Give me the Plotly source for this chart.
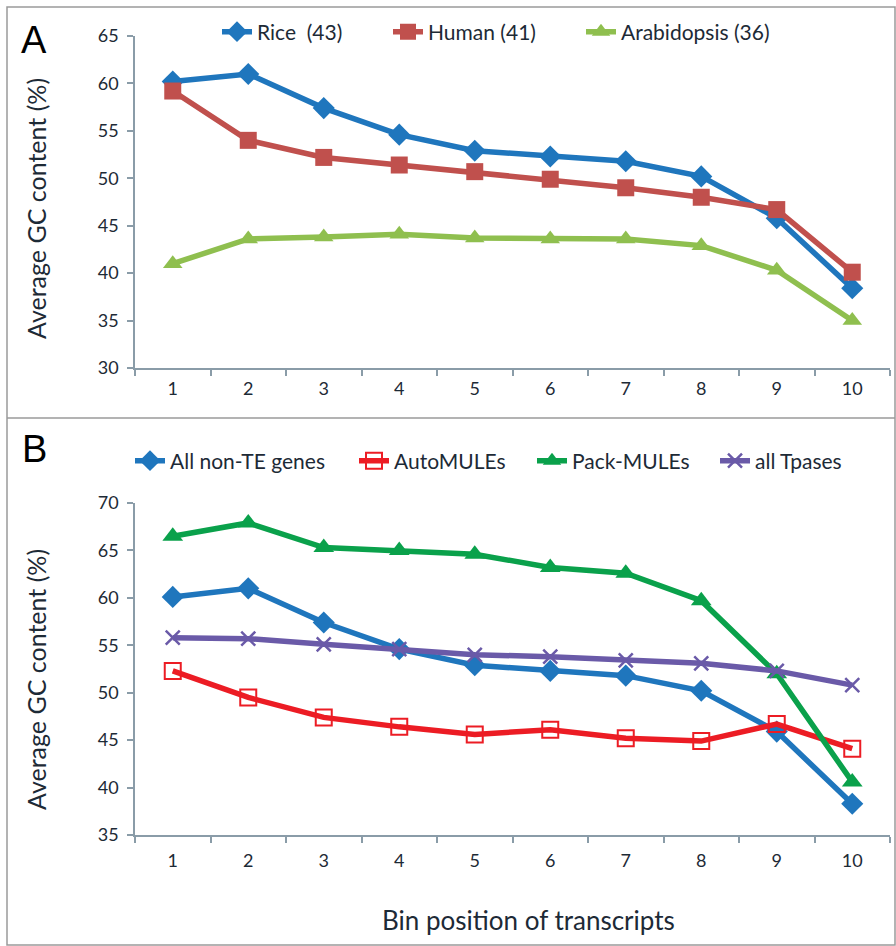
import plotly.graph_objects as go

bins = [1, 2, 3, 4, 5, 6, 7, 8, 9, 10]
bin_labels = ["1", "2", "3", "4", "5", "6", "7", "8", "9", "10"]

# Panel A
rice = [60.2, 61.0, 57.4, 54.6, 52.9, 52.3, 51.8, 50.2, 45.8, 38.4]
human = [59.2, 54.0, 52.2, 51.4, 50.7, 49.9, 49.0, 48.0, 46.7, 40.1]
arabidopsis = [41.0, 43.6, 43.8, 44.1, 43.7, 43.6, 43.6, 42.9, 40.3, 35.0]

# Panel B
non_te = [60.1, 61.0, 57.4, 54.6, 52.9, 52.3, 51.8, 50.2, 45.9, 38.3]
auto_mules = [52.3, 49.5, 47.4, 46.4, 45.6, 46.1, 45.2, 44.9, 46.7, 44.1]
pack_mules = [66.5, 67.9, 65.3, 65.0, 64.6, 63.2, 62.6, 59.7, 52.0, 40.6]
tpases = [55.8, 55.7, 55.1, 54.6, 54.0, 53.8, 53.4, 53.1, 52.3, 50.8]

yticks_a = [30, 35, 40, 45, 50, 55, 60, 65]
yticks_b = [35, 40, 45, 50, 55, 60, 65, 70]

W, H = 896, 946
FONT = "Lato"
TXT = "#1d2a36"
AX = "#8a9ca8"

BLUE = "#1f76bd"
RED_A = "#c0504d"
GREEN_A = "#8fbf4f"
RED_B = "#ec1c24"
GREEN_B = "#0aa14b"
PURPLE = "#6a5aa8"

def px_x(p):
    return p / W

def px_y(p):
    return 1 - p / H

fig = go.Figure()
legends = {}

def add(x, y, name, color, symbol, size, xa, ya, leg_id, leg_x, leg_y, open_=False):
    marker = dict(symbol=symbol, size=size, color=color)
    if open_:
        marker = dict(symbol=symbol, size=size, color="rgba(0,0,0,0)",
                      line=dict(color=color, width=2))
    if symbol == "x-thin":
        marker = dict(symbol=symbol, size=size, line=dict(color=color, width=2.5))
    fig.add_trace(go.Scatter(x=x, y=y, name=name, mode="lines+markers",
                             line=dict(color=color, width=5.5), marker=marker,
                             xaxis=xa, yaxis=ya, legend=leg_id))
    legends[leg_id] = dict(orientation="h", x=px_x(leg_x - 5), y=px_y(leg_y),
                           xanchor="left", yanchor="middle",
                           font=dict(family=FONT, size=21, color=TXT),
                           bgcolor="rgba(0,0,0,0)")

add(bins, rice, "Rice\u00a0\u00a0(43)", BLUE, "diamond", 17, "x", "y", "legend", 222, 32)
add(bins, human, "Human (41)", RED_A, "square", 17, "x", "y", "legend2", 393, 32)
add(bins, arabidopsis, "Arabidopsis (36)", GREEN_A, "triangle-up", 17, "x", "y", "legend3", 586, 32)

add(bins, non_te, "All non-TE genes", BLUE, "diamond", 17, "x2", "y2", "legend4", 135, 461)
add(bins, auto_mules, "AutoMULEs", RED_B, "square", 16, "x2", "y2", "legend5", 359, 461, open_=True)
add(bins, pack_mules, "Pack-MULEs", GREEN_B, "triangle-up", 18, "x2", "y2", "legend6", 537, 461)
add(bins, tpases, "all Tpases", PURPLE, "x-thin", 14, "x2", "y2", "legend7", 720, 461)

xdom = [px_x(135), px_x(890)]
common_x = dict(range=[0.5, 10.5], tickmode="array", tickvals=bins, ticktext=bin_labels,
                ticks="", showline=True, linecolor=AX, linewidth=1.5, showgrid=False,
                zeroline=False, tickfont=dict(family=FONT, size=18, color=TXT),
                minor=dict(tickmode="linear", tick0=0.5, dtick=1, ticks="outside",
                           ticklen=6, tickcolor=AX, tickwidth=1.5),
                domain=xdom, fixedrange=True)
common_y = dict(tickmode="array", ticks="outside", ticklen=6, tickcolor=AX, tickwidth=1.5,
                showline=True, linecolor=AX, linewidth=1.5, showgrid=False, zeroline=False,
                tickfont=dict(family=FONT, size=18, color=TXT), ticklabelstandoff=5,
                fixedrange=True)

fig.update_layout(
    width=W, height=H,
    margin=dict(l=0, r=0, t=0, b=0, autoexpand=False),
    paper_bgcolor="white", plot_bgcolor="white",
    xaxis=dict(common_x, anchor="y", ticklabelstandoff=4),
    yaxis=dict(common_y, range=[30, 65], tickvals=yticks_a, anchor="x",
               domain=[px_y(368), px_y(36)]),
    xaxis2=dict(common_x, anchor="y2", ticklabelstandoff=9),
    yaxis2=dict(common_y, range=[35, 70], tickvals=yticks_b, anchor="x2",
                domain=[px_y(835), px_y(503)]),
    showlegend=True,
    **legends,
)

ytitle = "Average GC content (%)"
ann = dict(xref="paper", yref="paper", showarrow=False, xanchor="center", yanchor="middle")
fig.add_annotation(text=ytitle, x=px_x(36), y=px_y(209), textangle=-90,
                   font=dict(family=FONT, size=25, color=TXT), **ann)
fig.add_annotation(text=ytitle, x=px_x(36), y=px_y(680), textangle=-90,
                   font=dict(family=FONT, size=25, color=TXT), **ann)
fig.add_annotation(text="Bin position of transcripts", x=px_x(528), y=px_y(920),
                   font=dict(family=FONT, size=26, color=TXT), **ann)
fig.add_annotation(text="A", x=px_x(34), y=px_y(40),
                   font=dict(family="Liberation Sans", size=38, color="black"), **ann)
fig.add_annotation(text="B", x=px_x(34), y=px_y(449),
                   font=dict(family="Liberation Sans", size=38, color="black"), **ann)

# frame and divider
fig.add_shape(type="rect", xref="paper", yref="paper", x0=px_x(7), x1=px_x(895),
              y0=px_y(945), y1=px_y(7), line=dict(color="#9a9a9a", width=1.5))
fig.add_shape(type="line", xref="paper", yref="paper", x0=px_x(7), x1=px_x(895),
              y0=px_y(418), y1=px_y(418), line=dict(color="#9a9a9a", width=1.5))

fig.write_html("out.html", config={"displayModeBar": False},
               post_script="document.body.style.margin='0';document.body.style.overflow='hidden';")
